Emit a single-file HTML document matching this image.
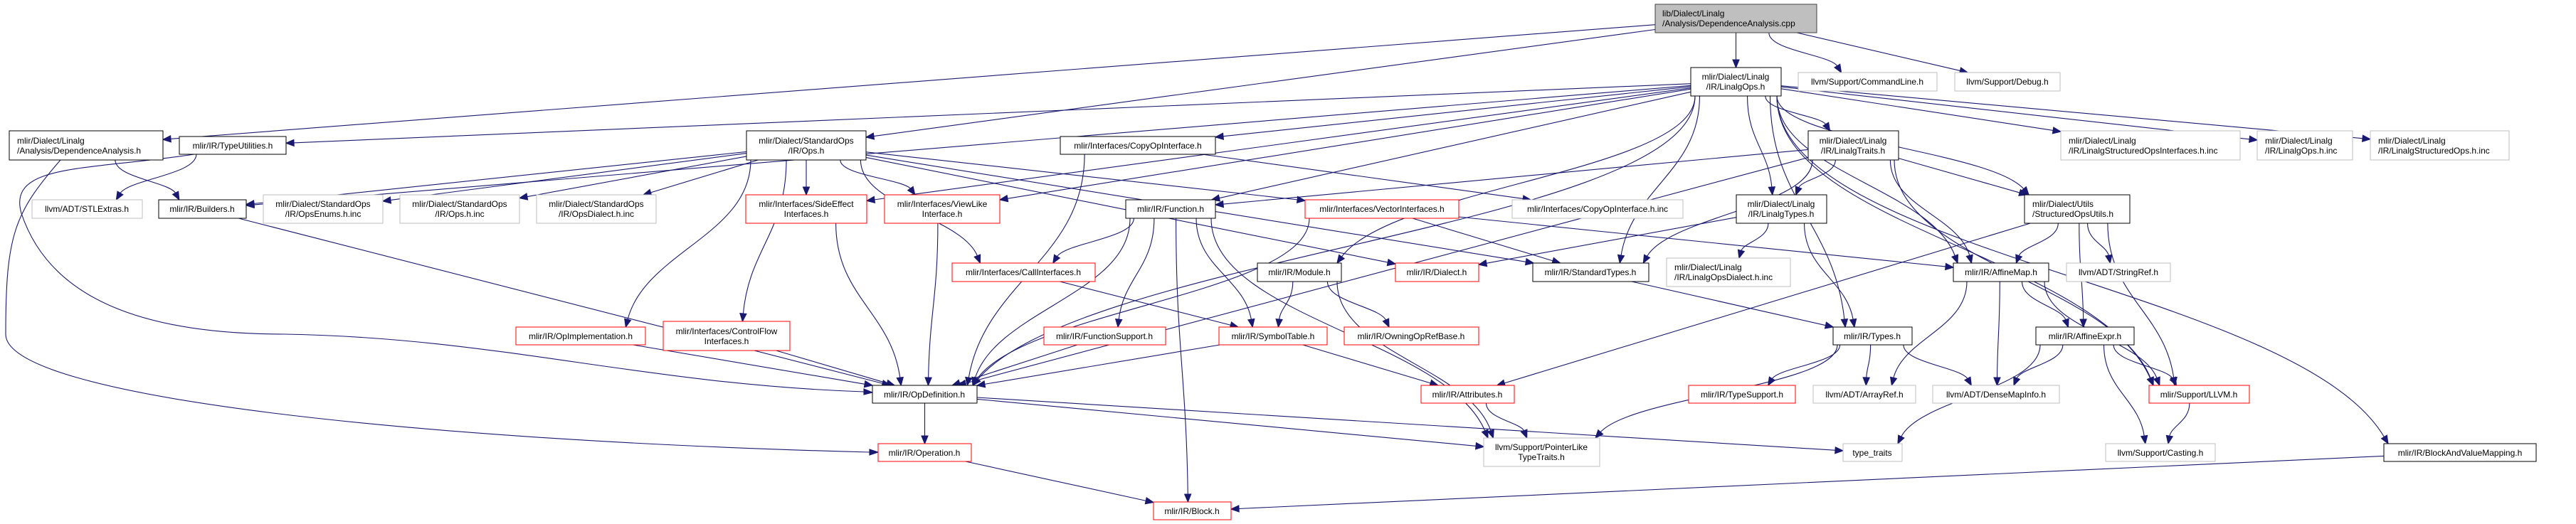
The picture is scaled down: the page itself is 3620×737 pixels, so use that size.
<!DOCTYPE html>
<html><head><meta charset="utf-8"><style>
html,body{margin:0;padding:0;background:#fff;width:3620px;height:737px;overflow:hidden}
svg text{font-family:"Liberation Sans",Helvetica,Arial,sans-serif;font-size:12px;fill:#000}
</style></head><body>
<svg id="g" width="3620" height="737" viewBox="0 0 3620 737" xmlns="http://www.w3.org/2000/svg">
<g id="edges" fill="none" stroke="#191970" stroke-width="1.1">
<path d="M85,225 C20,300 8,330 8,470 C8,560 600,620 1222,636"/>
<polygon fill="#191970" points="1234,636 1222,632 1222,640"/>
<path d="M273,217 C120,240 10,230 30,300 C70,420 200,470 400,470 C700,475 900,540 1214,551"/>
<polygon fill="#191970" points="1226,552 1214,547 1214,555"/>
</g>
<g id="nodes">
<rect x="2326" y="6" width="227" height="40" fill="#bfbfbf" stroke="#404040"/>
<text x="2336" y="23">lib/Dialect/Linalg</text><text x="2336" y="37">/Analysis/DependenceAnalysis.cpp</text>

<rect x="13" y="184" width="216" height="41" fill="#fff" stroke="#000"/>
<text x="24" y="202">mlir/Dialect/Linalg</text><text x="24" y="216">/Analysis/DependenceAnalysis.h</text>

<rect x="252" y="192" width="150" height="25" fill="#fff" stroke="#000"/>
<text x="327" y="209" text-anchor="middle">mlir/IR/TypeUtilities.h</text>

<rect x="1049" y="184" width="168" height="41" fill="#fff" stroke="#000"/>
<text x="1133" y="202" text-anchor="middle">mlir/Dialect/StandardOps</text><text x="1133" y="216" text-anchor="middle">/IR/Ops.h</text>

<rect x="1490" y="192" width="218" height="25" fill="#fff" stroke="#000"/>
<text x="1599" y="209" text-anchor="middle">mlir/Interfaces/CopyOpInterface.h</text>

<rect x="2376" y="95" width="127" height="40" fill="#fff" stroke="#000"/>
<text x="2439" y="112" text-anchor="middle">mlir/Dialect/Linalg</text><text x="2439" y="126" text-anchor="middle">/IR/LinalgOps.h</text>

<rect x="2527" y="102" width="195" height="26" fill="#fff" stroke="#bfbfbf"/>
<text x="2624" y="119" text-anchor="middle">llvm/Support/CommandLine.h</text>

<rect x="2747" y="102" width="148" height="26" fill="#fff" stroke="#bfbfbf"/>
<text x="2821" y="119" text-anchor="middle">llvm/Support/Debug.h</text>

<rect x="2541" y="184" width="127" height="41" fill="#fff" stroke="#000"/>
<text x="2604" y="202" text-anchor="middle">mlir/Dialect/Linalg</text><text x="2604" y="216" text-anchor="middle">/IR/LinalgTraits.h</text>

<rect x="2896" y="184" width="252" height="41" fill="#fff" stroke="#bfbfbf"/>
<text x="2907" y="202">mlir/Dialect/Linalg</text><text x="2907" y="216">/IR/LinalgStructuredOpsInterfaces.h.inc</text>

<rect x="3172" y="184" width="134" height="41" fill="#fff" stroke="#bfbfbf"/>
<text x="3183" y="202">mlir/Dialect/Linalg</text><text x="3183" y="216">/IR/LinalgOps.h.inc</text>

<rect x="3331" y="184" width="195" height="41" fill="#fff" stroke="#bfbfbf"/>
<text x="3342" y="202">mlir/Dialect/Linalg</text><text x="3342" y="216">/IR/LinalgStructuredOps.h.inc</text>

<rect x="45" y="281" width="155" height="26" fill="#fff" stroke="#bfbfbf"/>
<text x="122" y="298" text-anchor="middle">llvm/ADT/STLExtras.h</text>

<rect x="223" y="281" width="123" height="26" fill="#fff" stroke="#000"/>
<text x="284" y="298" text-anchor="middle">mlir/IR/Builders.h</text>

<rect x="370" y="274" width="168" height="40" fill="#fff" stroke="#bfbfbf"/>
<text x="454" y="291" text-anchor="middle">mlir/Dialect/StandardOps</text><text x="454" y="305" text-anchor="middle">/IR/OpsEnums.h.inc</text>

<rect x="562" y="274" width="168" height="40" fill="#fff" stroke="#bfbfbf"/>
<text x="646" y="291" text-anchor="middle">mlir/Dialect/StandardOps</text><text x="646" y="305" text-anchor="middle">/IR/Ops.h.inc</text>

<rect x="754" y="274" width="168" height="40" fill="#fff" stroke="#bfbfbf"/>
<text x="838" y="291" text-anchor="middle">mlir/Dialect/StandardOps</text><text x="838" y="305" text-anchor="middle">/IR/OpsDialect.h.inc</text>

<rect x="1048" y="274" width="170" height="40" fill="#fff" stroke="#ff0000"/>
<text x="1133" y="291" text-anchor="middle">mlir/Interfaces/SideEffect</text><text x="1133" y="305" text-anchor="middle">Interfaces.h</text>

<rect x="1243" y="274" width="162" height="40" fill="#fff" stroke="#ff0000"/>
<text x="1324" y="291" text-anchor="middle">mlir/Interfaces/ViewLike</text><text x="1324" y="305" text-anchor="middle">Interface.h</text>

<rect x="1582" y="281" width="126" height="26" fill="#fff" stroke="#000"/>
<text x="1645" y="298" text-anchor="middle">mlir/IR/Function.h</text>

<rect x="1834" y="281" width="216" height="26" fill="#fff" stroke="#ff0000"/>
<text x="1942" y="298" text-anchor="middle">mlir/Interfaces/VectorInterfaces.h</text>

<rect x="2125" y="281" width="240" height="26" fill="#fff" stroke="#bfbfbf"/>
<text x="2245" y="298" text-anchor="middle">mlir/Interfaces/CopyOpInterface.h.inc</text>

<rect x="2440" y="274" width="127" height="40" fill="#fff" stroke="#000"/>
<text x="2503" y="291" text-anchor="middle">mlir/Dialect/Linalg</text><text x="2503" y="305" text-anchor="middle">/IR/LinalgTypes.h</text>

<rect x="2845" y="274" width="148" height="40" fill="#fff" stroke="#000"/>
<text x="2856" y="291">mlir/Dialect/Utils</text><text x="2856" y="305">/StructuredOpsUtils.h</text>

<rect x="1338" y="370" width="201" height="26" fill="#fff" stroke="#ff0000"/>
<text x="1438" y="387" text-anchor="middle">mlir/Interfaces/CallInterfaces.h</text>

<rect x="1767" y="370" width="118" height="26" fill="#fff" stroke="#000"/>
<text x="1826" y="387" text-anchor="middle">mlir/IR/Module.h</text>

<rect x="1961" y="370" width="117" height="26" fill="#fff" stroke="#ff0000"/>
<text x="2019" y="387" text-anchor="middle">mlir/IR/Dialect.h</text>

<rect x="2154" y="370" width="163" height="26" fill="#fff" stroke="#000"/>
<text x="2235" y="387" text-anchor="middle">mlir/IR/StandardTypes.h</text>

<rect x="2342" y="363" width="174" height="40" fill="#fff" stroke="#bfbfbf"/>
<text x="2353" y="380">mlir/Dialect/Linalg</text><text x="2353" y="394">/IR/LinalgOpsDialect.h.inc</text>

<rect x="2745" y="370" width="134" height="26" fill="#fff" stroke="#000"/>
<text x="2812" y="387" text-anchor="middle">mlir/IR/AffineMap.h</text>

<rect x="2904" y="370" width="146" height="26" fill="#fff" stroke="#bfbfbf"/>
<text x="2977" y="387" text-anchor="middle">llvm/ADT/StringRef.h</text>

<rect x="725" y="460" width="182" height="25" fill="#fff" stroke="#ff0000"/>
<text x="816" y="477" text-anchor="middle">mlir/IR/OpImplementation.h</text>

<rect x="932" y="452" width="178" height="41" fill="#fff" stroke="#ff0000"/>
<text x="1021" y="470" text-anchor="middle">mlir/Interfaces/ControlFlow</text><text x="1021" y="484" text-anchor="middle">Interfaces.h</text>

<rect x="1467" y="460" width="171" height="25" fill="#fff" stroke="#ff0000"/>
<text x="1552" y="477" text-anchor="middle">mlir/IR/FunctionSupport.h</text>

<rect x="1713" y="460" width="152" height="25" fill="#fff" stroke="#ff0000"/>
<text x="1789" y="477" text-anchor="middle">mlir/IR/SymbolTable.h</text>

<rect x="1889" y="460" width="189" height="25" fill="#fff" stroke="#ff0000"/>
<text x="1983" y="477" text-anchor="middle">mlir/IR/OwningOpRefBase.h</text>

<rect x="2576" y="460" width="111" height="25" fill="#fff" stroke="#000"/>
<text x="2631" y="477" text-anchor="middle">mlir/IR/Types.h</text>

<rect x="2861" y="460" width="138" height="25" fill="#fff" stroke="#000"/>
<text x="2930" y="477" text-anchor="middle">mlir/IR/AffineExpr.h</text>

<rect x="1226" y="542" width="147" height="25" fill="#fff" stroke="#000"/>
<text x="1299" y="559" text-anchor="middle">mlir/IR/OpDefinition.h</text>

<rect x="1997" y="542" width="131" height="25" fill="#fff" stroke="#ff0000"/>
<text x="2062" y="559" text-anchor="middle">mlir/IR/Attributes.h</text>

<rect x="2373" y="542" width="150" height="25" fill="#fff" stroke="#ff0000"/>
<text x="2448" y="559" text-anchor="middle">mlir/IR/TypeSupport.h</text>

<rect x="2548" y="542" width="144" height="25" fill="#fff" stroke="#bfbfbf"/>
<text x="2620" y="559" text-anchor="middle">llvm/ADT/ArrayRef.h</text>

<rect x="2716" y="542" width="178" height="25" fill="#fff" stroke="#bfbfbf"/>
<text x="2805" y="559" text-anchor="middle">llvm/ADT/DenseMapInfo.h</text>

<rect x="3020" y="542" width="141" height="25" fill="#fff" stroke="#ff0000"/>
<text x="3090" y="559" text-anchor="middle">mlir/Support/LLVM.h</text>

<rect x="1234" y="624" width="131" height="25" fill="#fff" stroke="#ff0000"/>
<text x="1299" y="641" text-anchor="middle">mlir/IR/Operation.h</text>

<rect x="2085" y="616" width="163" height="40" fill="#fff" stroke="#bfbfbf"/>
<text x="2166" y="633" text-anchor="middle">llvm/Support/PointerLike</text><text x="2166" y="647" text-anchor="middle">TypeTraits.h</text>

<rect x="2590" y="624" width="83" height="25" fill="#fff" stroke="#bfbfbf"/>
<text x="2631" y="641" text-anchor="middle">type_traits</text>

<rect x="2959" y="624" width="154" height="25" fill="#fff" stroke="#bfbfbf"/>
<text x="3036" y="641" text-anchor="middle">llvm/Support/Casting.h</text>

<rect x="3350" y="624" width="214" height="25" fill="#fff" stroke="#000"/>
<text x="3457" y="641" text-anchor="middle">mlir/IR/BlockAndValueMapping.h</text>

<rect x="1621" y="706" width="109" height="25" fill="#fff" stroke="#ff0000"/>
<text x="1675" y="723" text-anchor="middle">mlir/IR/Block.h</text>
</g>
</svg>
<script>
var N={
root:[2326,6,2553,46],depa:[13,184,229,225],tu:[252,192,402,217],stdops:[1049,184,1217,225],copy:[1490,192,1708,217],
lops:[2376,95,2503,135],cl:[2527,102,2722,128],dbg:[2747,102,2895,128],ltr:[2541,184,2668,225],
i1:[2896,184,3148,225],i2:[3172,184,3306,225],i3:[3331,184,3526,225],stl:[45,281,200,307],bld:[223,281,346,307],
oe:[370,274,538,314],oi:[562,274,730,314],od:[754,274,922,314],se:[1048,274,1218,314],vl:[1243,274,1405,314],
fn:[1582,281,1708,307],vi:[1834,281,2050,307],ci:[2125,281,2365,307],lty:[2440,274,2567,314],sou:[2845,274,2993,314],
call:[1338,370,1539,396],mod:[1767,370,1885,396],dia:[1961,370,2078,396],st:[2154,370,2317,396],lod:[2342,363,2516,403],
am:[2745,370,2879,396],sr:[2904,370,3050,396],oimp:[725,460,907,485],cf:[932,452,1110,493],fs:[1467,460,1638,485],
sym:[1713,460,1865,485],own:[1889,460,2078,485],ty:[2576,460,2687,485],ae:[2861,460,2999,485],od2:[1226,542,1373,567],
attr:[1997,542,2128,567],ts:[2373,542,2523,567],ar:[2548,542,2692,567],dmi:[2716,542,2894,567],llvm:[3020,542,3161,567],
op:[1234,624,1365,649],plt:[2085,616,2248,656],tt:[2590,624,2673,649],cast:[2959,624,3113,649],bvm:[3350,624,3564,649],blk:[1621,706,1730,731]};
var E="root>depa root>stdops root>lops root>cl root>dbg depa>bld tu>stl "+
"lops>tu lops>bld lops>copy lops>fn lops>se lops>vl lops>od2 lops>mod lops>st lops>ltr lops>lty lops>sou lops>am lops>ty lops>i1 lops>i2 lops>i3 lops>llvm lops>bvm "+
"stdops>bld stdops>oe stdops>oi stdops>od stdops>se stdops>vl stdops>oimp stdops>cf stdops>call stdops>vi stdops>st stdops>dia "+
"copy>ci copy>od2 bld>od2 se>od2 vl>od2 fn>call fn>od2 fn>fs fn>sym fn>blk fn>plt vi>am vi>od2 vi>st call>sym "+
"mod>sym mod>own mod>plt ltr>fn ltr>lty ltr>st ltr>am ltr>sou ltr>llvm ltr>od2 lty>dia lty>lod lty>ty "+
"sou>am sou>ae sou>sr sou>llvm sou>attr st>ty am>ae am>llvm am>dmi am>ar ae>dmi ae>llvm ae>cast ae>tt llvm>cast "+
"ty>ts ty>ar ty>dmi ty>plt sym>od2 sym>attr fs>od2 cf>od2 oimp>od2 attr>plt od2>op od2>plt od2>tt op>blk bvm>blk";
function clip(b,cx,cy,dx,dy){var hw=(b[2]-b[0])/2,hh=(b[3]-b[1])/2;var t=Math.min(dx?hw/Math.abs(dx):1e9,dy?hh/Math.abs(dy):1e9);return [cx+dx*t,cy+dy*t];}
function f(v){return v.toFixed(1);}
function arrow(tx,ty,ux,uy){var ex=tx-ux*11,ey=ty-uy*11;return '<polygon fill="#191970" points="'+f(tx)+','+f(ty)+' '+f(ex-uy*4.5)+','+f(ey+ux*4.5)+' '+f(ex+uy*4.5)+','+f(ey-ux*4.5)+'"/>';}
var g=document.getElementById('edges'),out="";
E.split(" ").forEach(function(e){var p=e.split(">"),a=N[p[0]],b=N[p[1]];if(!a||!b)return;
var ax=(a[0]+a[2])/2,ay=(a[1]+a[3])/2,bx=(b[0]+b[2])/2,by=(b[1]+b[3])/2,dx=bx-ax,dy=by-ay;
if(b[1]>a[3]+8 && Math.abs(dx)<3*Math.abs(dy)){
 var hwa=(a[2]-a[0])/2-6,hwb=(b[2]-b[0])/2-6;
 var sx=ax+Math.max(-hwa,Math.min(hwa,dx*0.25)),sy=a[3];
 var tx=bx-Math.max(-hwb,Math.min(hwb,dx*0.2)),ty=b[1];
 var k=(ty-sy)*0.45;
 var c2x=tx+(sx-tx)*0.15,c2y=ty-k;
 var L=Math.hypot(tx-c2x,ty-c2y),ux=(tx-c2x)/L,uy=(ty-c2y)/L;
 var ex=tx-ux*10,ey=ty-uy*10;
 out+='<path d="M'+f(sx)+','+f(sy)+'C'+f(sx)+','+f(sy+k)+' '+f(c2x)+','+f(c2y)+' '+f(ex)+','+f(ey)+'"/>';
 out+=arrow(tx,ty,ux,uy);
}else{
 var s=clip(a,ax,ay,dx,dy),t=clip(b,bx,by,-dx,-dy);
 var L2=Math.hypot(t[0]-s[0],t[1]-s[1])||1,vx=(t[0]-s[0])/L2,vy=(t[1]-s[1])/L2;
 out+='<path d="M'+f(s[0])+','+f(s[1])+'L'+f(t[0]-vx*10)+','+f(t[1]-vy*10)+'"/>';
 out+=arrow(t[0],t[1],vx,vy);
}});
g.insertAdjacentHTML('beforeend',out);
</script>
</body></html>
